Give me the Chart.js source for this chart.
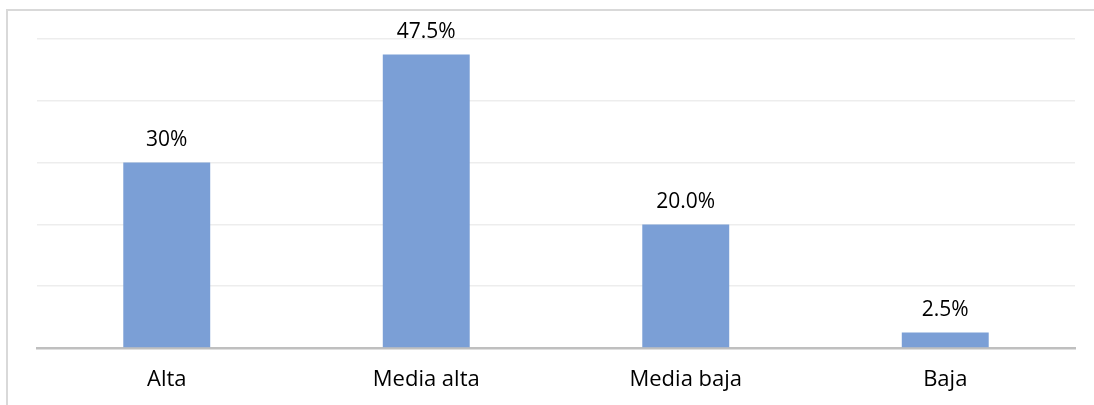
<!DOCTYPE html>
<html>
<head>
<meta charset="utf-8">
<script src="https://cdn.jsdelivr.net/npm/chart.js@4.4.0/dist/chart.umd.min.js"></script>
<style>
  html, body { margin: 0; padding: 0; background: #ffffff; }
  #wrap { width: 1094px; height: 405px; position: relative; }
</style>
</head>
<body>
<div id="wrap"><canvas id="c" width="1094" height="405"></canvas></div>
<script>
const categories = ["Alta", "Media alta", "Media baja", "Baja"];
const values = [30, 47.5, 20.0, 2.5];
const valueLabels = ["30%", "47.5%", "20.0%", "2.5%"];
const yMin = 0;
const yMax = 50;
const yStep = 10;

const FONT = "'Open Sans', 'Liberation Sans', sans-serif";

const framePlugin = {
  id: 'frame',
  beforeDraw(chart) {
    const ctx = chart.ctx;
    ctx.save();
    ctx.fillStyle = '#ffffff';
    ctx.fillRect(0, 0, chart.width, chart.height);
    ctx.strokeStyle = '#d9d9d9';
    ctx.lineWidth = 2;
    ctx.beginPath();
    ctx.moveTo(7, chart.height + 5);
    ctx.lineTo(7, 10);
    ctx.lineTo(chart.width + 5, 10);
    ctx.stroke();
    ctx.restore();
  }
};

const valueLabelPlugin = {
  id: 'valueLabels',
  afterDatasetsDraw(chart) {
    const ctx = chart.ctx;
    const meta = chart.getDatasetMeta(0);
    ctx.save();
    ctx.font = '21px ' + FONT;
    ctx.fillStyle = '#000000';
    ctx.textAlign = 'center';
    ctx.textBaseline = 'alphabetic';
    meta.data.forEach((bar, i) => {
      ctx.fillText(valueLabels[i], bar.x, bar.y - 16.5);
    });
    ctx.restore();
  }
};

new Chart(document.getElementById('c'), {
  type: 'bar',
  data: {
    labels: categories,
    datasets: [{
      data: values,
      backgroundColor: '#7b9fd6',
      borderWidth: 0,
      categoryPercentage: 1.0,
      barPercentage: 0.335
    }]
  },
  options: {
    responsive: false,
    animation: false,
    events: [],
    layout: { padding: { left: 37, right: 19, top: 39, bottom: 0 } },
    plugins: {
      legend: { display: false },
      tooltip: { enabled: false },
      title: { display: false }
    },
    scales: {
      x: {
        afterFit(scale) { scale.height = 57; },
        grid: { display: false, drawTicks: false },
        border: { display: true, color: '#bfbfbf', width: 2.5 },
        ticks: {
          padding: 19,
          color: '#000000',
          font: { family: FONT, size: 22 }
        }
      },
      y: {
        min: yMin,
        max: yMax,
        afterFit(scale) { scale.width = 0; },
        ticks: { display: false, stepSize: yStep },
        grid: { color: '#ededed', lineWidth: 1.5, drawTicks: false },
        border: { display: false }
      }
    }
  },
  plugins: [framePlugin, valueLabelPlugin]
});
</script>
</body>
</html>
